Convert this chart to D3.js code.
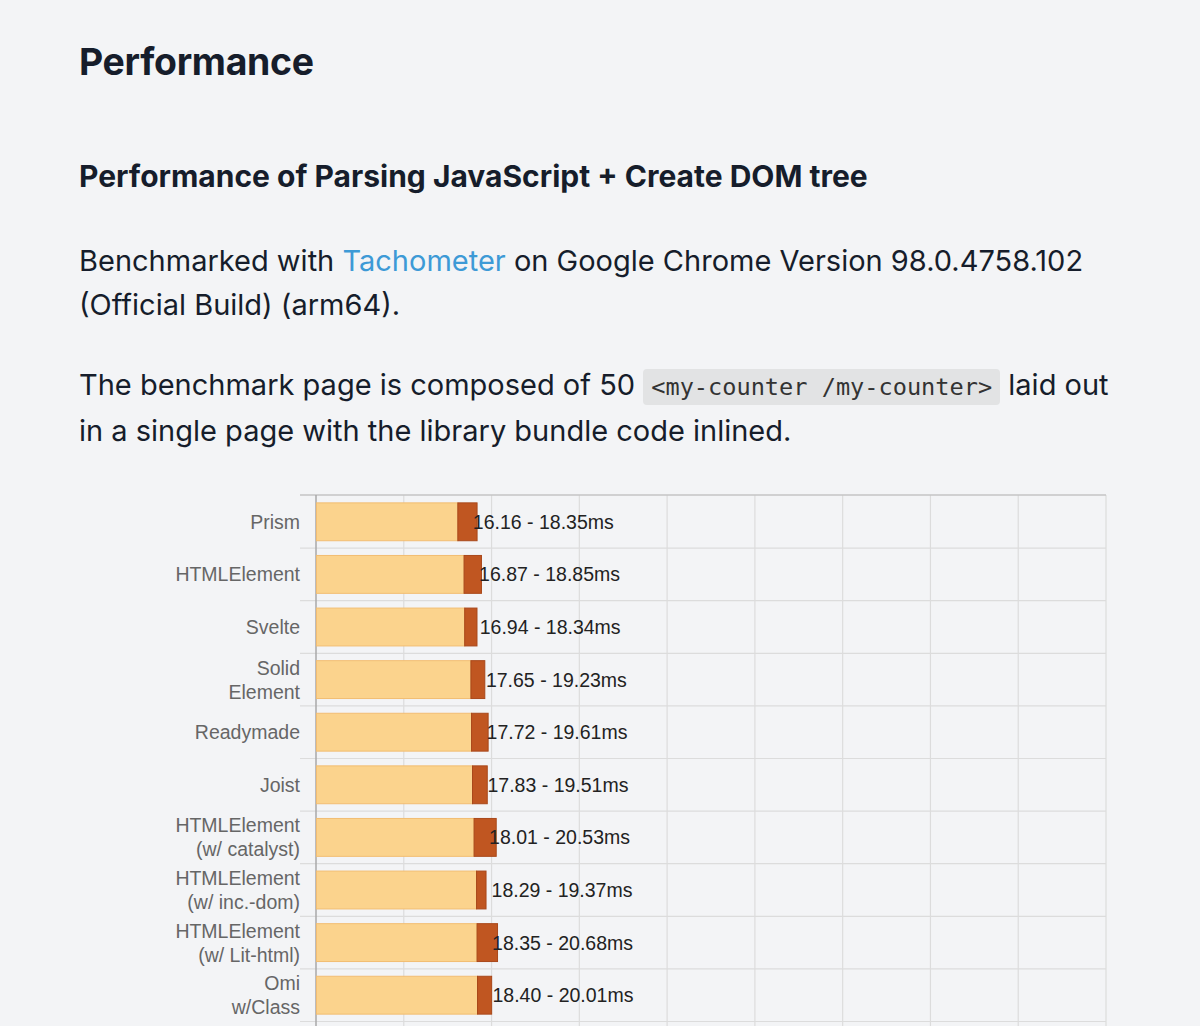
<!DOCTYPE html>
<html lang="en">
<head>
  <meta charset="UTF-8">
  <title>Performance</title>
  <script src="https://d3js.org/d3.v7.min.js"></script>
  <style>
    html, body { margin: 0; padding: 0; background: #f3f4f6; overflow: hidden; }
    body { width: 1200px; height: 1026px; position: relative; font-family: Inter, "Noto Sans", sans-serif; color: #161d2b; }
    .t { position: absolute; left: 79px; white-space: nowrap; margin: 0; }
    h1.t { font-size: 37.4px; font-weight: 700; top: 39px; line-height: 46px; letter-spacing: -0.3px; }
    h3.t { font-size: 30px; font-weight: 700; top: 156px; line-height: 40px; }
    p.t { font-size: 29px; font-weight: 400; line-height: 44px; }
    a { color: #3d9ad6; text-decoration: none; }
    code { font-family: "DejaVu Sans Mono", monospace; font-size: 23.6px; background: #e2e3e4; color: #333; border-radius: 4px; padding: 4px 8px; }
    #chart { position: absolute; left: 0; top: 480px; }
    .cat { font-family: "Liberation Sans", Arial, sans-serif; font-size: 19.5px; fill: #666; }
    .val { font-family: "Liberation Sans", Arial, sans-serif; font-size: 19.5px; fill: #222; }
  </style>
</head>
<body>
  <h1 class="t">Performance</h1>
  <h3 class="t">Performance of Parsing JavaScript + Create DOM tree</h3>
  <p class="t" style="top:239px">Benchmarked with <a href="#">Tachometer</a> on Google Chrome Version 98.0.4758.102<br>(Official Build) (arm64).</p>
  <p class="t" style="top:363px">The benchmark page is composed of 50 <code>&lt;my-counter /my-counter&gt;</code> laid out<br>in a single page with the library bundle code inlined.</p>
  <svg id="chart" width="1200" height="560"></svg>

  <script>
    const categories = [
      "Prism", "HTMLElement", "Svelte", "Solid\nElement", "Readymade", "Joist",
      "HTMLElement\n(w/ catalyst)", "HTMLElement\n(w/ inc.-dom)", "HTMLElement\n(w/ Lit-html)", "Omi\nw/Class"
    ];
    const lowMs  = [16.16, 16.87, 16.94, 17.65, 17.72, 17.83, 18.01, 18.29, 18.35, 18.40];
    const highMs = [18.35, 18.85, 18.34, 19.23, 19.61, 19.51, 20.53, 19.37, 20.68, 20.01];
    const xTicks = [0, 10, 20, 30, 40, 50, 60, 70, 80, 90];

    const svg = d3.select("#chart");
    const data = categories.map((c, i) => ({ name: c, low: lowMs[i], high: highMs[i] }));

    const x = d3.scaleLinear().domain([0, 90]).range([316, 1106]);
    const y = d3.scaleBand().domain(categories).range([15, 541])
      .paddingInner(0.28).paddingOuter(0.14);
    const step = y.step();

    // grid: vertical lines per tick
    svg.append("g").selectAll("line")
      .data(xTicks.slice(1))
      .join("line")
      .attr("x1", d => x(d)).attr("x2", d => x(d))
      .attr("y1", 15).attr("y2", 560)
      .attr("stroke", "#dcdcdc").attr("stroke-width", 1.2);

    // horizontal row separators (with tick stubs to the left)
    svg.append("g").selectAll("line")
      .data(categories)
      .join("line")
      .attr("x1", 300).attr("x2", 1106)
      .attr("y1", (d, i) => 15.5 + step * (i + 1))
      .attr("y2", (d, i) => 15.5 + step * (i + 1))
      .attr("stroke", "#dcdcdc").attr("stroke-width", 1.2);

    // top border + left axis line
    svg.append("line").attr("x1", 300).attr("x2", 1106).attr("y1", 15).attr("y2", 15)
      .attr("stroke", "#c4c4c4").attr("stroke-width", 1.5);
    svg.append("line").attr("x1", x(0)).attr("x2", x(0)).attr("y1", 15).attr("y2", 560)
      .attr("stroke", "#a9a9a9").attr("stroke-width", 1.5);

    const rows = svg.append("g").selectAll("g")
      .data(data)
      .join("g");

    rows.append("rect")
      .attr("x", x(0) + 0.5)
      .attr("y", d => y(d.name) + 0.5)
      .attr("width", d => x(d.low) - x(0) - 0.5)
      .attr("height", y.bandwidth())
      .attr("fill", "#fbd38d")
      .attr("stroke", "#f2bd72").attr("stroke-width", 1);

    rows.append("rect")
      .attr("x", d => x(d.low))
      .attr("y", d => y(d.name) + 0.5)
      .attr("width", d => x(d.high) - x(d.low))
      .attr("height", y.bandwidth())
      .attr("fill", "#c05621")
      .attr("stroke", "#a9481a").attr("stroke-width", 1);

    rows.append("text")
      .attr("class", "val")
      .attr("x", d => x(d.low) + 15)
      .attr("y", d => y(d.name) + y.bandwidth() / 2 + 0.5)
      .attr("dy", "0.36em")
      .text(d => d.low.toFixed(2) + " - " + d.high.toFixed(2) + "ms");

    // category labels, split over lines
    rows.append("text")
      .attr("class", "cat")
      .attr("text-anchor", "end")
      .each(function(d) {
        const lines = d.name.split("\n");
        const cy = y(d.name) + y.bandwidth() / 2 + 0.5;
        const lh = 24;
        d3.select(this).selectAll("tspan")
          .data(lines)
          .join("tspan")
          .attr("x", 300)
          .attr("y", (l, i) => cy + (i - (lines.length - 1) / 2) * lh)
          .attr("dy", "0.36em")
          .text(l => l);
      });
  </script>
</body>
</html>
